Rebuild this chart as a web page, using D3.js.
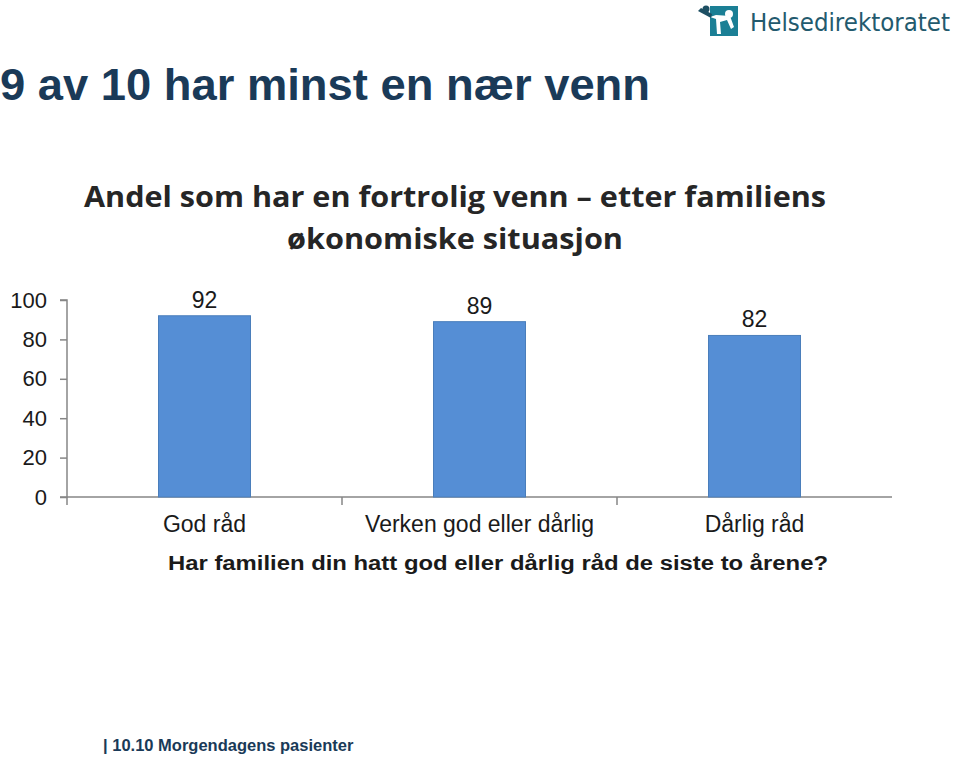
<!DOCTYPE html>
<html>
<head>
<meta charset="utf-8">
<script src="https://cdn.jsdelivr.net/npm/d3@7"></script>
<style>
  body { margin: 0; background: #fff; }
  svg { display: block; }
</style>
</head>
<body>
<svg width="960" height="757"></svg>
<script>
const categories = ['God råd', 'Verken god eller dårlig', 'Dårlig råd'];
const values = [92, 89, 82];
const yTicks = [0, 20, 40, 60, 80, 100];

const svg = d3.select('svg');
const navy = '#1a3a58';

// Slide title
svg.append('text')
	.attr('x', 0)
	.attr('y', 100)
	.attr('font-family', 'Liberation Sans, Arial, sans-serif')
	.attr('font-weight', 'bold')
	.attr('font-size', 44)
	.attr('fill', navy)
	.attr('textLength', 650)
	.attr('lengthAdjust', 'spacingAndGlyphs')
	.text('9 av 10 har minst en nær venn');

// Logo
const logo = svg.append('g').attr('transform', 'translate(698,5)');
logo.append('rect')
	.attr('x', 12).attr('y', 1).attr('width', 28).attr('height', 30)
	.attr('fill', '#1b7f95');
logo.append('circle').attr('cx', 31).attr('cy', 9).attr('r', 4).attr('fill', '#fff');
logo.append('path')
	.attr('d', 'M12,12 L18,14 L19,29 L23,29 L22,17 L29,15 L33,24 L36,22 L32,11 L18,10 Z')
	.attr('fill', '#fff');
logo.append('path')
	.attr('d', 'M0,6 L13,13 L14,9 L3,3 Z')
	.attr('fill', '#1d4f63');
logo.append('circle').attr('cx', 8).attr('cy', 4).attr('r', 3.5).attr('fill', '#1d4f63');
const logoText = svg.append('text')
	.attr('x', 750)
	.attr('y', 31)
	.attr('font-family', 'DejaVu Sans Condensed, DejaVu Sans, sans-serif')
	.attr('font-size', 28)
	.attr('fill', '#235a6e')
	.text('Helsedirektoratet');
// shrink font so the natural width ends near x=952
const natW = logoText.node().getComputedTextLength();
logoText.attr('font-size', 28 * 200 / natW);

// Chart title
const chartTitle = ['Andel som har en fortrolig venn – etter familiens', 'økonomiske situasjon'];
const titleWidths = [742, 336];
svg.append('g')
	.selectAll('text')
	.data(chartTitle)
	.enter()
	.append('text')
	.attr('x', 455)
	.attr('y', (d, i) => 207 + i * 42)
	.attr('text-anchor', 'middle')
	.attr('font-family', 'Open Sans, sans-serif')
	.attr('font-weight', 'bold')
	.attr('font-size', 28)
	.attr('fill', '#262626')
	.attr('textLength', (d, i) => titleWidths[i])
	.attr('lengthAdjust', 'spacingAndGlyphs')
	.text(d => d);

// Scales
const x = d3.scaleBand()
	.domain(categories)
	.range([67, 892])
	.paddingInner(0)
	.paddingOuter(0);
const y = d3.scaleLinear()
	.domain([0, 100])
	.range([497, 300]);

// Y axis
const yAxis = d3.axisLeft(y).tickValues(yTicks).tickSize(7).tickPadding(13);
const yg = svg.append('g')
	.attr('transform', 'translate(67,0)')
	.call(yAxis);
yg.select('.domain').attr('stroke', '#868686').attr('stroke-width', 1.5).attr('d', 'M-7,300H0V497H-7');
yg.selectAll('.tick line').attr('stroke', '#868686').attr('stroke-width', 1.5);
yg.selectAll('.tick text')
	.attr('font-family', 'Liberation Sans, Arial, sans-serif')
	.attr('font-size', 22)
	.attr('fill', '#1a1a1a');

// X axis
const xg = svg.append('g')
	.attr('transform', 'translate(0,497)');
xg.append('line')
	.attr('x1', 67).attr('x2', 892).attr('y1', 0).attr('y2', 0)
	.attr('stroke', '#868686').attr('stroke-width', 1.5);
xg.selectAll('.sep')
	.data(categories)
	.enter()
	.append('line')
	.attr('class', 'sep')
	.attr('x1', d => x(d)).attr('x2', d => x(d))
	.attr('y1', 0).attr('y2', 8)
	.attr('stroke', '#868686').attr('stroke-width', 1.5);
xg.selectAll('.lbl')
	.data(categories)
	.enter()
	.append('text')
	.attr('class', 'lbl')
	.attr('x', d => x(d) + x.bandwidth() / 2)
	.attr('y', 35)
	.attr('text-anchor', 'middle')
	.attr('font-family', 'Liberation Sans, Arial, sans-serif')
	.attr('font-size', 23)
	.attr('fill', '#1a1a1a')
	.text(d => d);

// Bars
const barW = 92;
svg.append('g')
	.selectAll('rect')
	.data(values)
	.enter()
	.append('rect')
	.attr('x', (d, i) => x(categories[i]) + (x.bandwidth() - barW) / 2)
	.attr('y', d => y(d))
	.attr('width', barW)
	.attr('height', d => y(0) - y(d))
	.attr('fill', '#558ed5')
	.attr('stroke', '#4a7ebb')
	.attr('stroke-width', 1);

// Value labels
svg.append('g')
	.selectAll('text')
	.data(values)
	.enter()
	.append('text')
	.attr('x', (d, i) => x(categories[i]) + x.bandwidth() / 2)
	.attr('y', d => y(d) - 8)
	.attr('text-anchor', 'middle')
	.attr('font-family', 'Liberation Sans, Arial, sans-serif')
	.attr('font-size', 23)
	.attr('fill', '#1a1a1a')
	.text(d => d);

// X axis title
svg.append('text')
	.attr('x', 498)
	.attr('y', 570)
	.attr('text-anchor', 'middle')
	.attr('font-family', 'Liberation Sans, Arial, sans-serif')
	.attr('font-weight', 'bold')
	.attr('font-size', 20)
	.attr('fill', '#1a1a1a')
	.attr('textLength', 660)
	.attr('lengthAdjust', 'spacingAndGlyphs')
	.text('Har familien din hatt god eller dårlig råd de siste to årene?');

// Footer
svg.append('text')
	.attr('x', 103)
	.attr('y', 751)
	.attr('font-family', 'Liberation Sans, Arial, sans-serif')
	.attr('font-weight', 'bold')
	.attr('font-size', 16.5)
	.attr('fill', navy)
	.text('| 10.10 Morgendagens pasienter');
</script>
</body>
</html>
